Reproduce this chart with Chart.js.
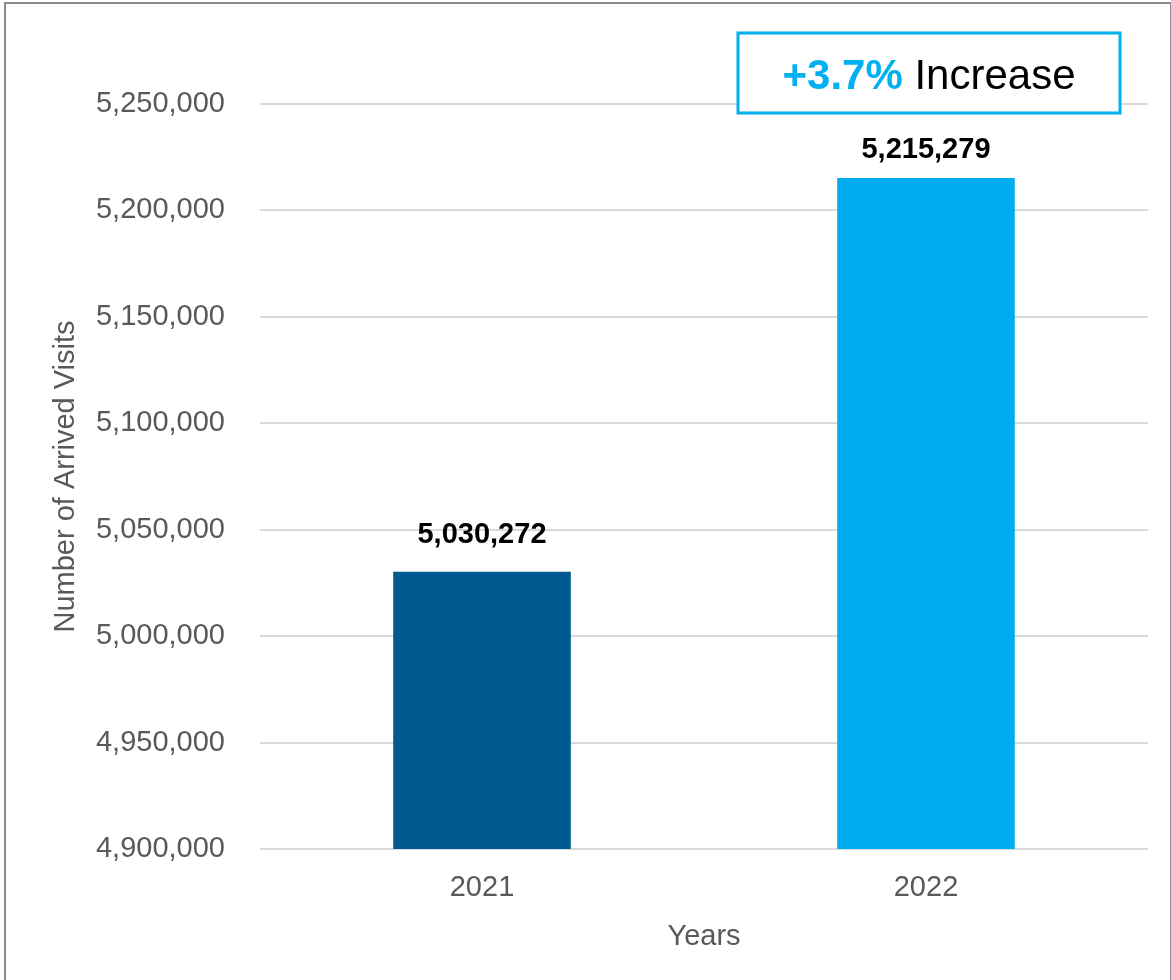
<!DOCTYPE html>
<html>
<head>
<meta charset="utf-8">
<title>Arrived Visits</title>
<script src="https://cdn.jsdelivr.net/npm/chart.js@4.4.0/dist/chart.umd.min.js"></script>
<style>
    html, body { margin: 0; padding: 0; background: #fff; }
    #frame {
        position: absolute; left: 4px; top: 2px;
        width: 1164px; height: 1000px;
        border: 2px solid #8c8c8c;
    }
    #chart { position: absolute; left: 0; top: 0; }
</style>
</head>
<body>
<div id="frame"></div>
<canvas id="chart" width="1171" height="980"></canvas>
<script>
// Chart data
const years = ['2021', '2022'];
const arrivedVisits = [5030272, 5215279];
const barColors = ['#005A91', '#00AEEF'];
const yMin = 4900000;
const yMax = 5250000;
const yStep = 50000;
const changeLabel = '+3.7%';
const changeText = 'Increase';

const FONT = '"Liberation Sans", Arial, sans-serif';
const labelGap = [29, 20];

/**
 * Value labels above each bar
 */
const valueLabels = {
    id: 'valueLabels',
    afterDatasetsDraw(chart) {
        const ctx = chart.ctx;
        const meta = chart.getDatasetMeta(0);
        ctx.save();
        ctx.font = 'bold 29px ' + FONT;
        ctx.fillStyle = '#000';
        ctx.textAlign = 'center';
        ctx.textBaseline = 'alphabetic';
        meta.data.forEach((bar, i) => {
            ctx.fillText(arrivedVisits[i].toLocaleString('en-US'), bar.x, bar.y - labelGap[i]);
        });
        ctx.restore();
    }
};

/**
 * "+3.7% Increase" callout box
 */
const changeBox = {
    id: 'changeBox',
    afterDraw(chart) {
        const ctx = chart.ctx;
        const x0 = 738, y0 = 33, w = 382, h = 80;
        ctx.save();
        ctx.fillStyle = '#fff';
        ctx.fillRect(x0, y0, w, h);
        ctx.lineWidth = 3;
        ctx.strokeStyle = '#00B0F0';
        ctx.strokeRect(x0, y0, w, h);

        ctx.textBaseline = 'alphabetic';
        ctx.textAlign = 'left';
        ctx.font = 'bold 42px ' + FONT;
        const boldW = ctx.measureText(changeLabel + ' ').width;
        ctx.font = '42px ' + FONT;
        const restW = ctx.measureText(changeText).width;
        let x = x0 + w / 2 - (boldW + restW) / 2;
        const y = 89;
        ctx.font = 'bold 42px ' + FONT;
        ctx.fillStyle = '#00B0F0';
        ctx.fillText(changeLabel, x, y);
        ctx.font = '42px ' + FONT;
        ctx.fillStyle = '#000';
        ctx.fillText(changeText, x + boldW, y);
        ctx.restore();
    }
};

new Chart(document.getElementById('chart'), {
    type: 'bar',
    data: {
        labels: years,
        datasets: [{
            data: arrivedVisits,
            backgroundColor: barColors,
            borderWidth: 0,
            categoryPercentage: 1,
            barPercentage: 0.4
        }]
    },
    options: {
        responsive: false,
        devicePixelRatio: 1,
        animation: false,
        layout: {
            padding: { top: 104, right: 23, bottom: 0, left: 0 }
        },
        plugins: {
            legend: { display: false },
            tooltip: { enabled: false }
        },
        scales: {
            x: {
                grid: { display: false },
                border: { display: false },
                ticks: {
                    color: '#595959',
                    padding: 14,
                    font: { family: FONT, size: 29 }
                },
                title: {
                    display: true,
                    text: 'Years',
                    color: '#595959',
                    padding: { top: 0, bottom: 26 },
                    font: { family: FONT, size: 29 }
                },
                afterFit(scale) { scale.height = 131; }
            },
            y: {
                min: yMin,
                max: yMax,
                grid: {
                    color: '#D9D9D9',
                    lineWidth: 2,
                    drawTicks: false
                },
                border: { display: false },
                ticks: {
                    stepSize: yStep,
                    color: '#595959',
                    padding: 35,
                    font: { family: FONT, size: 29 },
                    callback: v => v.toLocaleString('en-US')
                },
                title: {
                    display: true,
                    text: 'Number of Arrived Visits',
                    color: '#595959',
                    padding: { top: 49, bottom: 0 },
                    font: { family: FONT, size: 29 }
                },
                afterFit(scale) { scale.width = 260; }
            }
        }
    },
    plugins: [valueLabels, changeBox]
});
</script>
</body>
</html>
